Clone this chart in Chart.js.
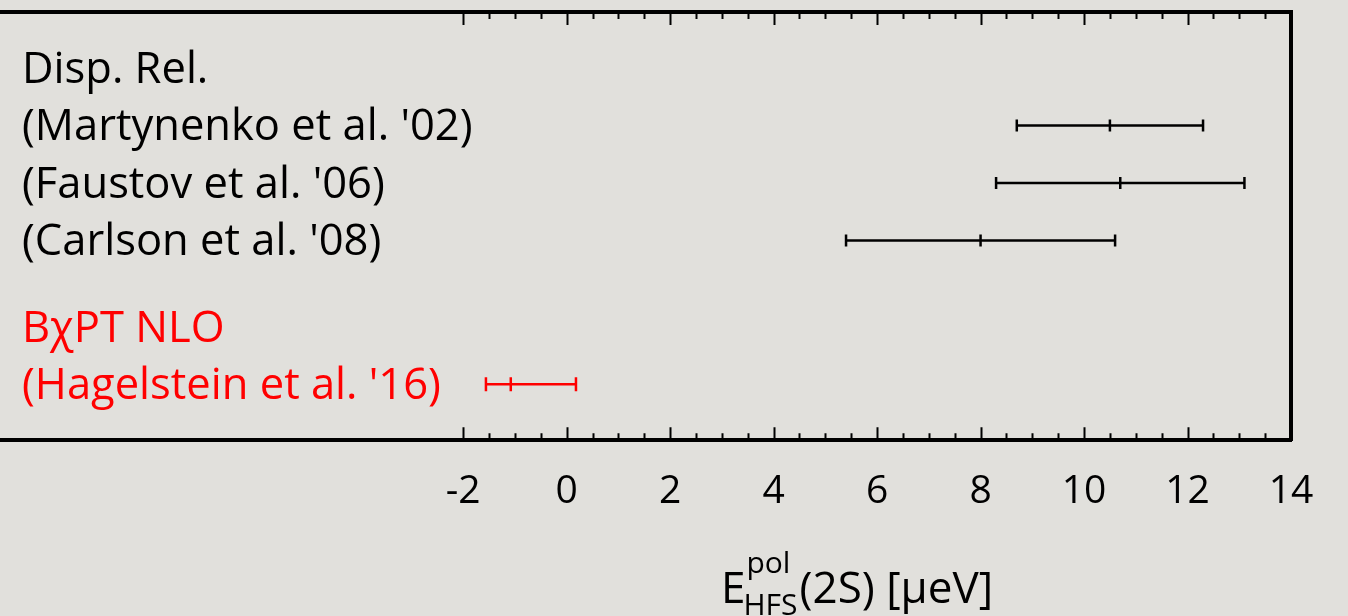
<!DOCTYPE html>
<html>
<head>
<meta charset="utf-8">
<script src="https://cdn.jsdelivr.net/npm/chart.js@4.4.1/dist/chart.umd.min.js"></script>
<style>
  html, body { margin: 0; padding: 0; background: #e1e0dc; overflow: hidden; }
  #wrap { width: 1348px; height: 616px; position: relative; }
</style>
</head>
<body>
<div id="wrap"><canvas id="hfsChart"></canvas></div>
<script>
// polarizability contribution to the 2S hyperfine splitting, in μeV
var refs = ["(Martynenko et al. '02)", "(Faustov et al. '06)", "(Carlson et al. '08)", "(Hagelstein et al. '16)"];
var centers = [10.5, 10.7, 8.0, -1.08];
var lowerEnds = [8.7, 8.3, 5.4, -1.56];
var upperEnds = [12.3, 13.1, 10.6, 0.18];
var rows = [2, 3, 4, 6.5];
var colors = ["#000000", "#000000", "#000000", "#ff0000"];

// group headings above the references
var headings = ["Disp. Rel.", "BχPT NLO"];
var headingRows = [1, 5.5];
var headingColors = ["#000000", "#ff0000"];

var tickValues = [-2, 0, 2, 4, 6, 8, 10, 12, 14];
var minorStep = 0.5;

var FONT = '"Open Sans", "Noto Sans", sans-serif';

var datasets = [];
for (var i = 0; i < refs.length; i++) {
  datasets.push({
    type: "line",
    label: refs[i],
    data: [{x: lowerEnds[i], y: rows[i]}, {x: upperEnds[i], y: rows[i]}],
    showLine: true,
    fill: false,
    borderColor: colors[i],
    borderWidth: 2.5,
    pointStyle: "line",
    pointRotation: 90,
    pointRadius: i === 3 ? 7 : 6,
    pointBorderWidth: 2.5,
    pointBorderColor: colors[i],
    pointBackgroundColor: colors[i]
  });
}
datasets.push({
  type: "scatter",
  label: "central",
  data: centers.map(function (c, i) { return {x: c, y: rows[i]}; }),
  showLine: false,
  pointStyle: "line",
  pointRotation: 90,
  pointRadius: [6, 6, 6, 7],
  pointBorderWidth: 2.5,
  pointBorderColor: colors,
  pointBackgroundColor: colors
});

// inward tick marks on the top and bottom frame, labels on the left, axis title
var frameDecor = {
  id: "frameDecor",
  afterDraw: function (chart) {
    var ctx = chart.ctx;
    var xs = chart.scales.x;
    var ys = chart.scales.y;
    var area = chart.chartArea;
    ctx.save();
    ctx.strokeStyle = "#000";
    ctx.lineWidth = 2;
    var first = tickValues[0], last = tickValues[tickValues.length - 1];
    for (var v = first; v < last + 1e-9; v += minorStep) {
      var px = Math.round(xs.getPixelForValue(v)) + 0.5;
      var major = Math.abs(v / 2 - Math.round(v / 2)) < 1e-6;
      var len = major ? 13 : 7;
      ctx.beginPath();
      ctx.moveTo(px, area.top);
      ctx.lineTo(px, area.top + len);
      ctx.moveTo(px, area.bottom);
      ctx.lineTo(px, area.bottom - len);
      ctx.stroke();
    }

    ctx.textAlign = "left";
    ctx.textBaseline = "alphabetic";
    ctx.font = "43.5px " + FONT;
    for (var h = 0; h < headings.length; h++) {
      ctx.fillStyle = headingColors[h];
      ctx.fillText(headings[h], 22, ys.getPixelForValue(headingRows[h]) + 15);
    }
    for (var r = 0; r < refs.length; r++) {
      ctx.fillStyle = colors[r];
      ctx.fillText(refs[r], 22, ys.getPixelForValue(rows[r]) + 15);
    }

    // E^pol_HFS(2S) [μeV]
    ctx.fillStyle = "#000";
    var x0 = 721, base = 603;
    ctx.font = "44px " + FONT;
    ctx.fillText("E", x0, base);
    var wE = ctx.measureText("E").width;
    ctx.font = "30px " + FONT;
    ctx.fillText("pol", x0 + wE + 1, base - 30);
    ctx.fillText("HFS", x0 + wE - 2, base + 12);
    var wScript = Math.max(ctx.measureText("pol").width + 3, ctx.measureText("HFS").width);
    ctx.font = "44px " + FONT;
    ctx.fillText("(2S) [μeV]", x0 + wE + wScript, base);
    ctx.restore();
  }
};

var ctx = document.getElementById("hfsChart").getContext("2d");
var hfsChart = new Chart(ctx, {
  type: "scatter",
  data: { datasets: datasets },
  options: {
    responsive: true,
    maintainAspectRatio: false,
    animation: false,
    layout: { autoPadding: false, padding: { top: 12, right: 57, bottom: 73, left: 0 } },
    scales: {
      x: {
        type: "linear",
        position: "bottom",
        min: -10.952,
        max: 14,
        afterBuildTicks: function (scale) {
          scale.ticks = tickValues.map(function (v) { return {value: v}; });
        },
        grid: { display: false, drawTicks: false },
        border: { display: true, color: "#000", width: 4 },
        ticks: {
          padding: 28,
          color: "#000",
          maxRotation: 0,
          autoSkip: false,
          font: { family: FONT, size: 39 }
        }
      },
      xTop: {
        type: "linear",
        position: "top",
        min: -10.952,
        max: 14,
        grid: { display: false, drawTicks: false },
        border: { display: true, color: "#000", width: 4 },
        ticks: { display: false }
      },
      y: {
        type: "linear",
        position: "right",
        reverse: true,
        min: 0.03,
        max: 7.47,
        grid: { display: false, drawTicks: false },
        border: { display: true, color: "#000", width: 4 },
        ticks: { display: false }
      }
    },
    plugins: {
      legend: { display: false },
      tooltip: { enabled: false }
    }
  },
  plugins: [frameDecor]
});
</script>
</body>
</html>
